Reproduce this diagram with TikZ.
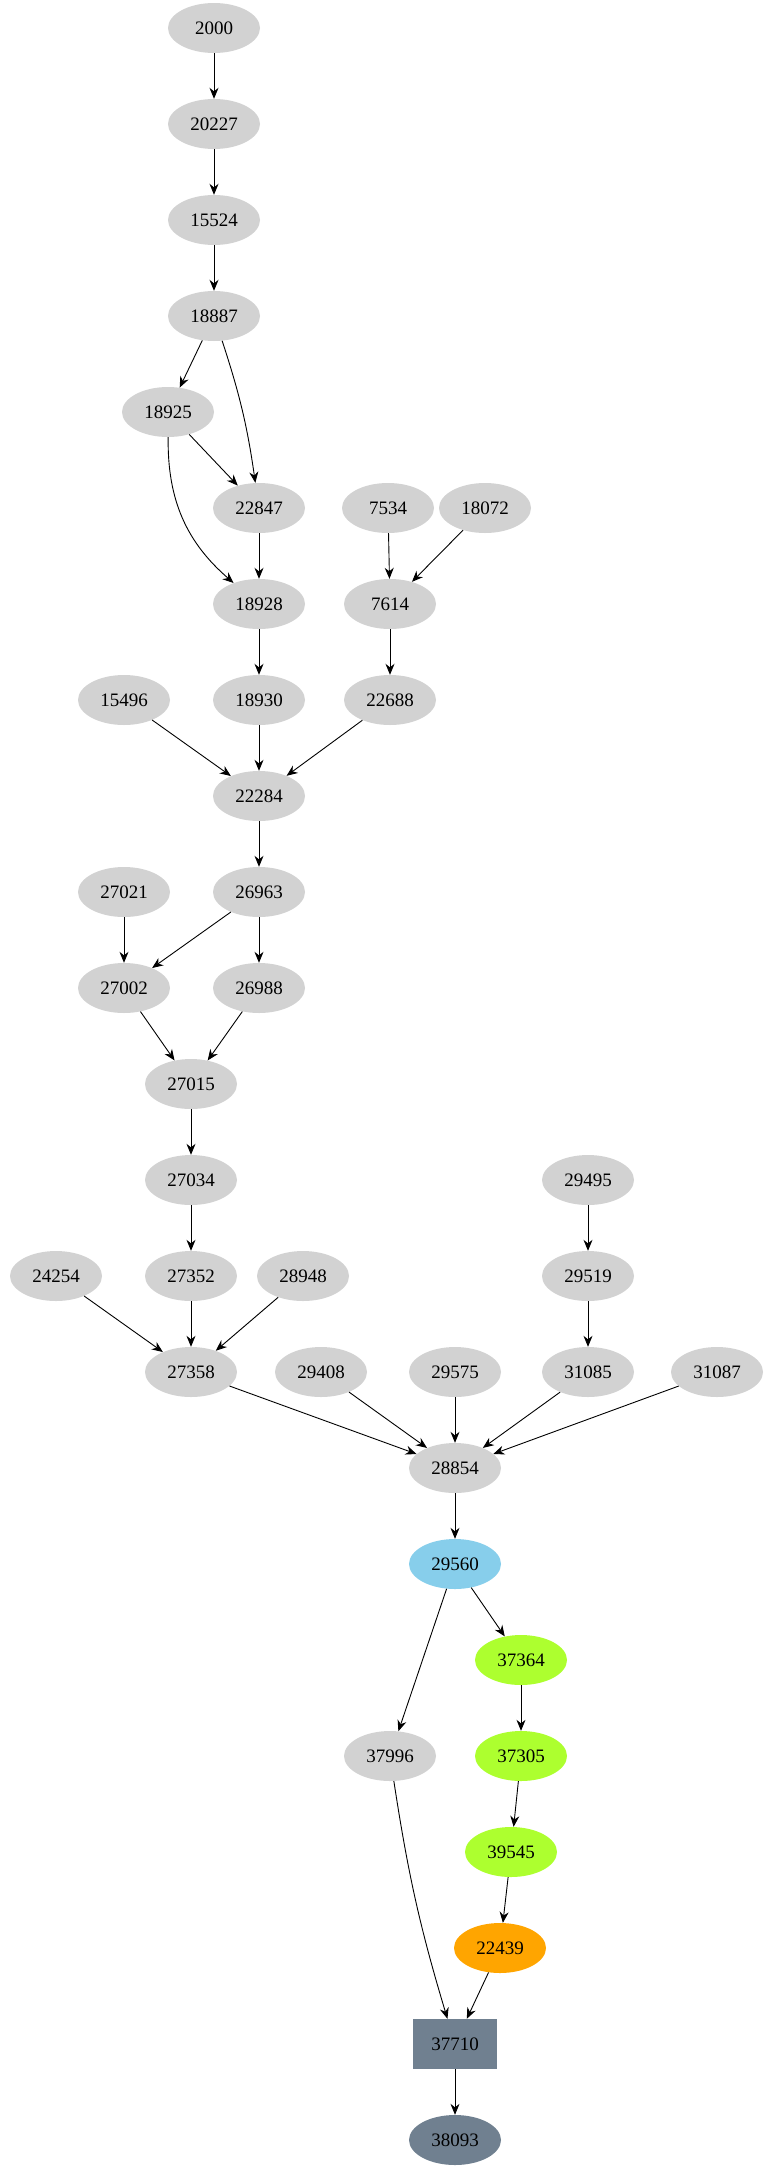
\documentclass[tikz,border=0pt]{standalone}
\usepackage{fontspec}
\setmainfont{Liberation Serif}
\usetikzlibrary{arrows.meta,shapes.geometric}
\begin{document}
\begin{tikzpicture}[x=1pt,y=-1pt,
    vert/.style={ellipse,fill=gray!35,minimum width=92,minimum height=50,inner sep=0pt,font=\fontsize{19}{22}\selectfont},
    edge/.style={-{Stealth[length=11,width=9]},line width=0.9}]
    \useasboundingbox (0,0) rectangle (778,2171);
    % nodes
    \node[vert] (n2000) at (214,28) {2000};
    \node[vert] (n20227) at (214,124) {20227};
    \node[vert] (n15524) at (214,220) {15524};
    \node[vert] (n18887) at (214,316) {18887};
    \node[vert] (n18925) at (168,412) {18925};
    \node[vert] (n22847) at (259,508) {22847};
    \node[vert] (n7534) at (388,508) {7534};
    \node[vert] (n18072) at (485,508) {18072};
    \node[vert] (n18928) at (259,604) {18928};
    \node[vert] (n7614) at (390,604) {7614};
    \node[vert] (n15496) at (124,700) {15496};
    \node[vert] (n18930) at (259,700) {18930};
    \node[vert] (n22688) at (390,700) {22688};
    \node[vert] (n22284) at (259,796) {22284};
    \node[vert] (n27021) at (124,892) {27021};
    \node[vert] (n26963) at (259,892) {26963};
    \node[vert] (n27002) at (124,988) {27002};
    \node[vert] (n26988) at (259,988) {26988};
    \node[vert] (n27015) at (191,1084) {27015};
    \node[vert] (n27034) at (191,1180) {27034};
    \node[vert] (n29495) at (588,1180) {29495};
    \node[vert] (n24254) at (56,1276) {24254};
    \node[vert] (n27352) at (191,1276) {27352};
    \node[vert] (n28948) at (303,1276) {28948};
    \node[vert] (n29519) at (588,1276) {29519};
    \node[vert] (n27358) at (191,1372) {27358};
    \node[vert] (n29408) at (321,1372) {29408};
    \node[vert] (n29575) at (455,1372) {29575};
    \node[vert] (n31085) at (588,1372) {31085};
    \node[vert] (n31087) at (717,1372) {31087};
    \node[vert] (n28854) at (455,1468) {28854};
    \node[vert,fill={rgb,255:red,135;green,206;blue,235}] (n29560) at (455,1564) {29560};
    \node[vert,fill={rgb,255:red,173;green,255;blue,47}] (n37364) at (521,1660) {37364};
    \node[vert] (n37996) at (390,1756) {37996};
    \node[vert,fill={rgb,255:red,173;green,255;blue,47}] (n37305) at (521,1756) {37305};
    \node[vert,fill={rgb,255:red,173;green,255;blue,47}] (n39545) at (511,1852) {39545};
    \node[vert,fill={rgb,255:red,255;green,165;blue,0}] (n22439) at (500,1948) {22439};
    \node[vert,rectangle,minimum width=84,minimum height=50,fill={rgb,255:red,112;green,128;blue,144}] (n37710) at (455,2044) {37710};
    \node[vert,fill={rgb,255:red,112;green,128;blue,144}] (n38093) at (455,2140) {38093};
    % edges
    \draw[edge] (n2000) -- (n20227);
    \draw[edge] (n20227) -- (n15524);
    \draw[edge] (n15524) -- (n18887);
    \draw[edge] (n18887) -- (n18925);
    \draw[edge] (n18887) to[bend left=5] (n22847);
    \draw[edge] (n18925) -- (n22847);
    \draw[edge] (n18925) to[bend right=25] (n18928);
    \draw[edge] (n22847) -- (n18928);
    \draw[edge] (n7534) -- (n7614);
    \draw[edge] (n18072) -- (n7614);
    \draw[edge] (n18928) -- (n18930);
    \draw[edge] (n7614) -- (n22688);
    \draw[edge] (n15496) -- (n22284);
    \draw[edge] (n18930) -- (n22284);
    \draw[edge] (n22688) -- (n22284);
    \draw[edge] (n22284) -- (n26963);
    \draw[edge] (n27021) -- (n27002);
    \draw[edge] (n26963) -- (n27002);
    \draw[edge] (n26963) -- (n26988);
    \draw[edge] (n27002) -- (n27015);
    \draw[edge] (n26988) -- (n27015);
    \draw[edge] (n27015) -- (n27034);
    \draw[edge] (n27034) -- (n27352);
    \draw[edge] (n29495) -- (n29519);
    \draw[edge] (n24254) -- (n27358);
    \draw[edge] (n27352) -- (n27358);
    \draw[edge] (n28948) -- (n27358);
    \draw[edge] (n29519) -- (n31085);
    \draw[edge] (n27358) -- (n28854);
    \draw[edge] (n29408) -- (n28854);
    \draw[edge] (n29575) -- (n28854);
    \draw[edge] (n31085) -- (n28854);
    \draw[edge] (n31087) -- (n28854);
    \draw[edge] (n28854) -- (n29560);
    \draw[edge] (n29560) -- (n37364);
    \draw[edge] (n29560) -- (n37996);
    \draw[edge] (n37364) -- (n37305);
    \draw[edge] (n37305) -- (n39545);
    \draw[edge] (n39545) -- (n22439);
    \draw[edge] (n37996) to[bend right=4] (n37710);
    \draw[edge] (n22439) -- (n37710);
    \draw[edge] (n37710) -- (n38093);
\end{tikzpicture}
\end{document}
